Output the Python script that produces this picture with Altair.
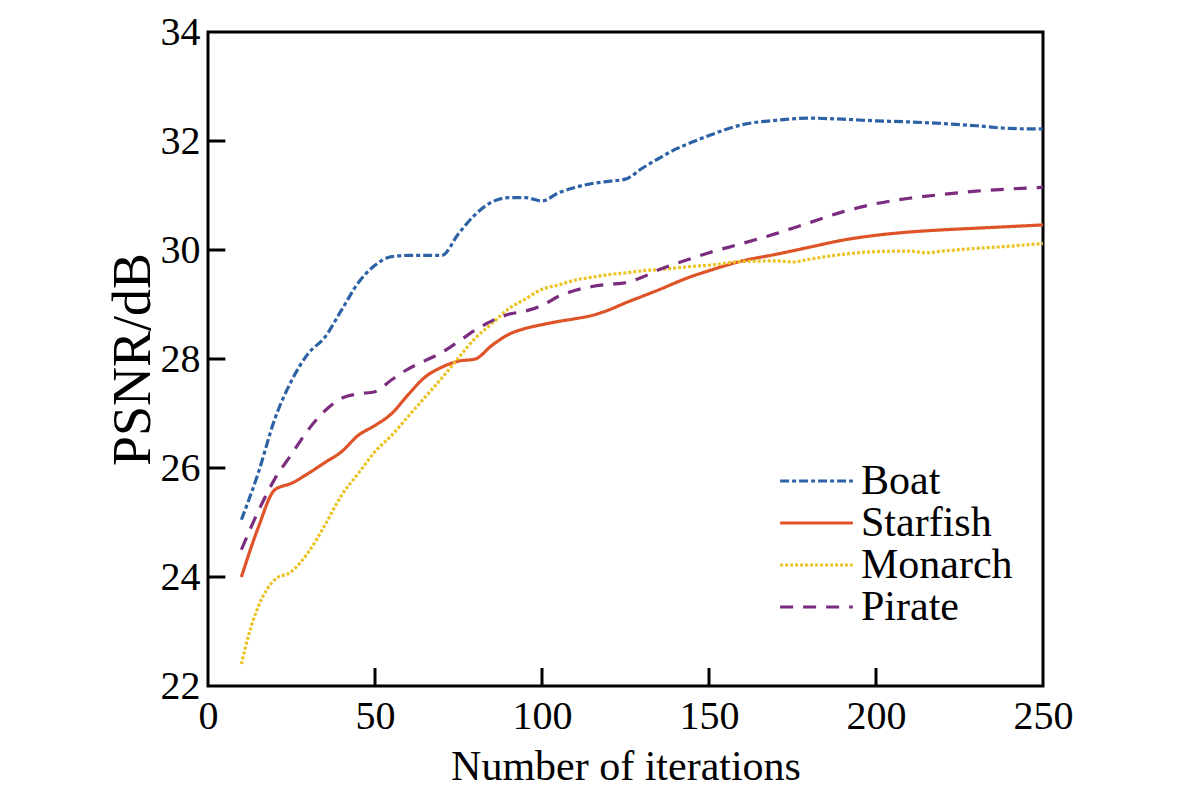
import altair as alt
import pandas as pd

series_names = ["Boat", "Starfish", "Monarch", "Pirate"]
series_colors = ["#2D62A6", "#DE5328", "#EBC322", "#7A2C7E"]
series_dash = [[9, 3, 4, 3], [1, 0], [3, 2], [13, 10]]

boat_x = [10, 15, 20, 25, 30, 35, 40, 45, 50, 55, 60, 65, 70, 75, 80, 85, 90, 95, 100, 105,
          110, 115, 120, 125, 130, 135, 140, 145, 150, 160, 170, 180, 190, 200, 210, 220, 230, 240, 250]
boat_y = [25.05, 25.9, 26.9, 27.6, 28.1, 28.4, 28.9, 29.4, 29.72, 29.88, 29.9, 29.9, 29.9, 30.3, 30.65,
          30.88, 30.96, 30.96, 30.9, 31.05, 31.15, 31.22, 31.26, 31.3, 31.5, 31.68, 31.85, 31.98, 32.1,
          32.3, 32.38, 32.42, 32.4, 32.37, 32.35, 32.32, 32.28, 32.23, 32.22]

starfish_x = boat_x
starfish_y = [24.0, 24.9, 25.6, 25.72, 25.9, 26.1, 26.3, 26.6, 26.78, 27.0, 27.35, 27.67, 27.85, 27.96,
              28.0, 28.25, 28.45, 28.56, 28.63, 28.69, 28.74, 28.8, 28.9, 29.03, 29.15, 29.27, 29.4,
              29.52, 29.62, 29.8, 29.92, 30.05, 30.18, 30.27, 30.33, 30.37, 30.4, 30.43, 30.46]

monarch_x = [10, 12, 15, 20, 25, 30, 35, 40, 45, 50, 55, 60, 65, 70, 75, 80, 85, 90, 95, 100, 105,
             110, 115, 120, 125, 130, 135, 140, 145, 150, 160, 170, 175, 180, 190, 200, 210, 215, 220,
             230, 240, 250]
monarch_y = [22.4, 22.9, 23.45, 23.95, 24.1, 24.45, 24.95, 25.5, 25.9, 26.3, 26.6, 26.95, 27.3, 27.65,
             28.02, 28.38, 28.65, 28.92, 29.1, 29.28, 29.36, 29.45, 29.5, 29.55, 29.58, 29.62, 29.64,
             29.67, 29.7, 29.72, 29.79, 29.8, 29.78, 29.83, 29.92, 29.97, 29.98, 29.95, 29.98, 30.03,
             30.07, 30.12]

pirate_x = boat_x
pirate_y = [24.5, 25.2, 25.8, 26.25, 26.7, 27.05, 27.28, 27.36, 27.4, 27.62, 27.82, 27.97, 28.12, 28.32,
            28.53, 28.7, 28.82, 28.88, 28.98, 29.15, 29.26, 29.33, 29.37, 29.4, 29.5, 29.64, 29.75,
            29.85, 29.95, 30.12, 30.3, 30.5, 30.7, 30.85, 30.95, 31.02, 31.08, 31.12, 31.15]

x_ticks = [0, 50, 100, 150, 200, 250]
y_ticks = [22, 24, 26, 28, 30, 32, 34]
x_inner_ticks = [50, 100, 150, 200]
y_inner_ticks = [24, 26, 28, 30, 32]

rows = []
for name, xs, ys in [("Boat", boat_x, boat_y), ("Starfish", starfish_x, starfish_y),
                     ("Monarch", monarch_x, monarch_y), ("Pirate", pirate_x, pirate_y)]:
    for xv, yv in zip(xs, ys):
        rows.append({"series": name, "iter": xv, "psnr": yv})
df = pd.DataFrame(rows)

FONT = "Liberation Serif"

xscale = alt.Scale(domain=[0, 250], nice=False)
yscale = alt.Scale(domain=[22, 34], nice=False, zero=False)

lines = alt.Chart(df).mark_line(strokeWidth=3.2, interpolate="monotone").encode(
    x=alt.X("iter:Q", scale=xscale,
            axis=alt.Axis(values=x_ticks, title="Number of iterations", grid=False, domain=False,
                          ticks=False, labelPadding=10, titlePadding=10, format="d",
                          labelFlush=False)),
    y=alt.Y("psnr:Q", scale=yscale,
            axis=alt.Axis(values=y_ticks, title="PSNR/dB", grid=False, domain=False,
                          ticks=False, labelPadding=8, titlePadding=0, format="d",
                          labelFlush=False)),
    color=alt.Color("series:N", scale=alt.Scale(domain=series_names, range=series_colors),
                    legend=alt.Legend(title=None, orient="none", legendX=570, legendY=428,
                                      symbolType="stroke", symbolSize=5300, symbolStrokeWidth=3.2,
                                      labelFont=FONT, labelFontSize=42, labelLimit=400,
                                      labelOffset=6, rowPadding=0, clipHeight=42,
                                      labelColor="black")),
    strokeDash=alt.StrokeDash("series:N", scale=alt.Scale(domain=series_names, range=series_dash),
                              legend=None),
    order=alt.Order("iter:Q"),
)

ytick_df = pd.DataFrame({"v": y_inner_ticks})
xtick_df = pd.DataFrame({"v": x_inner_ticks})

yticks = alt.Chart(ytick_df).mark_rule(color="black", strokeWidth=3).encode(
    y=alt.Y("v:Q", scale=yscale),
    x=alt.datum(0, scale=xscale),
    x2=alt.datum(5.2),
)
xticks = alt.Chart(xtick_df).mark_rule(color="black", strokeWidth=3).encode(
    x=alt.X("v:Q", scale=xscale),
    y=alt.datum(22, scale=yscale),
    y2=alt.datum(22.33),
)

chart = alt.layer(lines, yticks, xticks).properties(
    width=835, height=654,
    autosize=alt.AutoSizeParams(type="none"),
    padding={"left": 200, "top": 24, "right": 70, "bottom": 110},
).configure_view(stroke="black", strokeWidth=3).configure_axis(
    labelFont=FONT, labelFontSize=40, labelColor="black",
    titleFont=FONT, titleFontSize=42, titleFontWeight="normal", titleColor="black",
).configure_axisY(titleFontSize=54)

chart.save("out.html", embed_options={"renderer": "svg", "actions": False})
